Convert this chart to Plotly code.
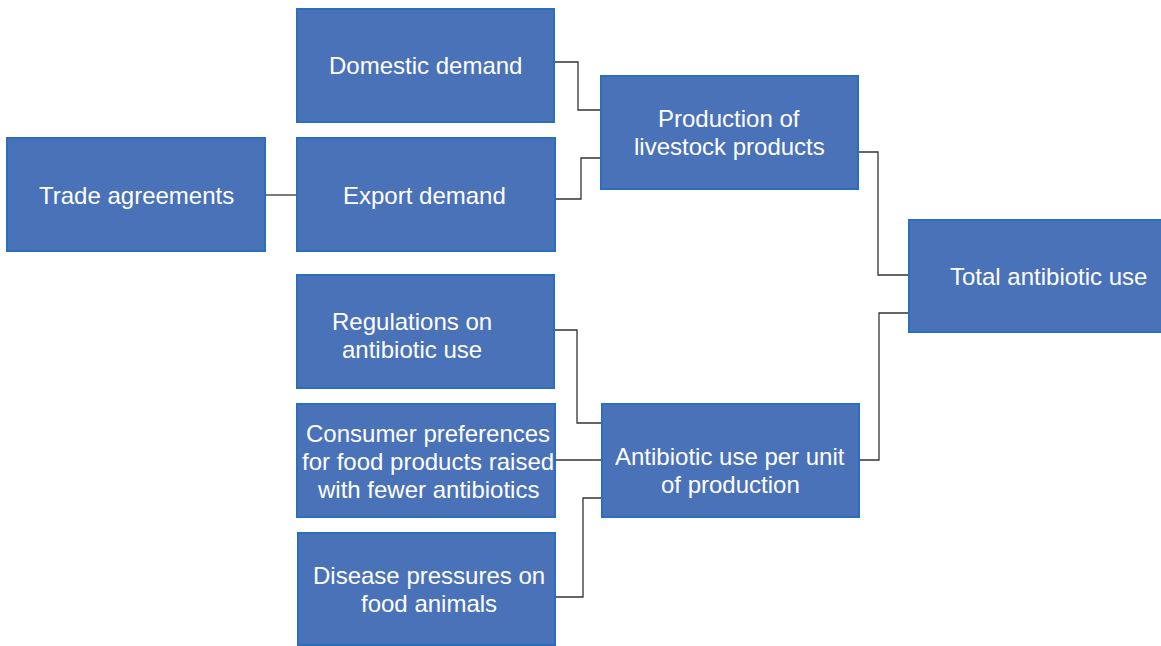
import plotly.graph_objects as go

# ---- content ----
labels = [
    "Trade agreements",
    "Domestic demand",
    "Export demand",
    "Production of<br>livestock products",
    "Total antibiotic use",
    "Regulations on<br>antibiotic use",
    "Consumer preferences<br>for food products raised<br>with fewer antibiotics",
    "Antibiotic use per unit<br>of production",
    "Disease pressures on<br>food animals",
]

# ---- layout of boxes (pixel space, y downward) ----
box_left = [7, 297, 297, 601, 909, 297, 297, 602, 298]
box_top = [138, 9, 138, 76, 220, 275, 404, 404, 533]
box_right = [265, 554, 555, 858, 1175, 554, 555, 859, 555]
box_bottom = [251, 122, 251, 189, 332, 388, 517, 517, 645]

# text line centres
text_x = [136, 425, 424.5, 729, 1048, 412, 428, 730, 429]
text_first_y = [195, 65, 195, 118, 276, 321, 433, 456, 575]
line_gap = 28

# ---- connectors (elbow lines) ----
edge_src = [1, 2, 0, 3, 7, 5, 6, 8]
edge_dst = [3, 3, 2, 4, 4, 7, 7, 7]
edge_src_y = [62, 199, 195, 152, 460, 330, 460, 597]
edge_dst_y = [110, 158, 195, 275, 313, 423, 460, 498]
edge_mid_x = [578, 581, 281, 878, 879, 577, 578, 583]

W, H = 1161, 646
fill_color = "#4a72b8"
border_color = "#2a6fbe"
line_color = "#333333"
font_family = "Liberation Sans, Arial, sans-serif"

fig = go.Figure()

# connectors
for s, d, sy, dy, mx in zip(edge_src, edge_dst, edge_src_y, edge_dst_y, edge_mid_x):
    x0 = box_right[s]
    x1 = box_left[d]
    fig.add_trace(go.Scatter(
        x=[x0, mx, mx, x1],
        y=[sy, sy, dy, dy],
        mode="lines",
        line=dict(color=line_color, width=1.3),
        hoverinfo="skip",
        showlegend=False,
    ))

# boxes
for i in range(len(labels)):
    fig.add_shape(
        type="rect", xref="x", yref="y",
        x0=box_left[i], x1=box_right[i], y0=box_top[i], y1=box_bottom[i],
        fillcolor=fill_color,
        line=dict(color=border_color, width=2),
        layer="above",
    )

# text
for i, lab in enumerate(labels):
    for k, part in enumerate(lab.split("<br>")):
        fig.add_annotation(
            x=text_x[i], y=text_first_y[i] + k * line_gap,
            xref="x", yref="y",
            text=part, showarrow=False,
            xanchor="center", yanchor="middle",
            font=dict(family=font_family, size=24, color="white"),
        )

fig.update_layout(
    width=W, height=H,
    margin=dict(l=0, r=0, t=0, b=0),
    paper_bgcolor="white", plot_bgcolor="white",
    xaxis=dict(range=[0, W], visible=False, fixedrange=True),
    yaxis=dict(range=[H, 0], visible=False, fixedrange=True),
    showlegend=False,
)

fig.write_html(
    "out.html",
    config={"displayModeBar": False},
    post_script="document.body.style.margin='0';document.body.style.overflow='hidden';",
)
